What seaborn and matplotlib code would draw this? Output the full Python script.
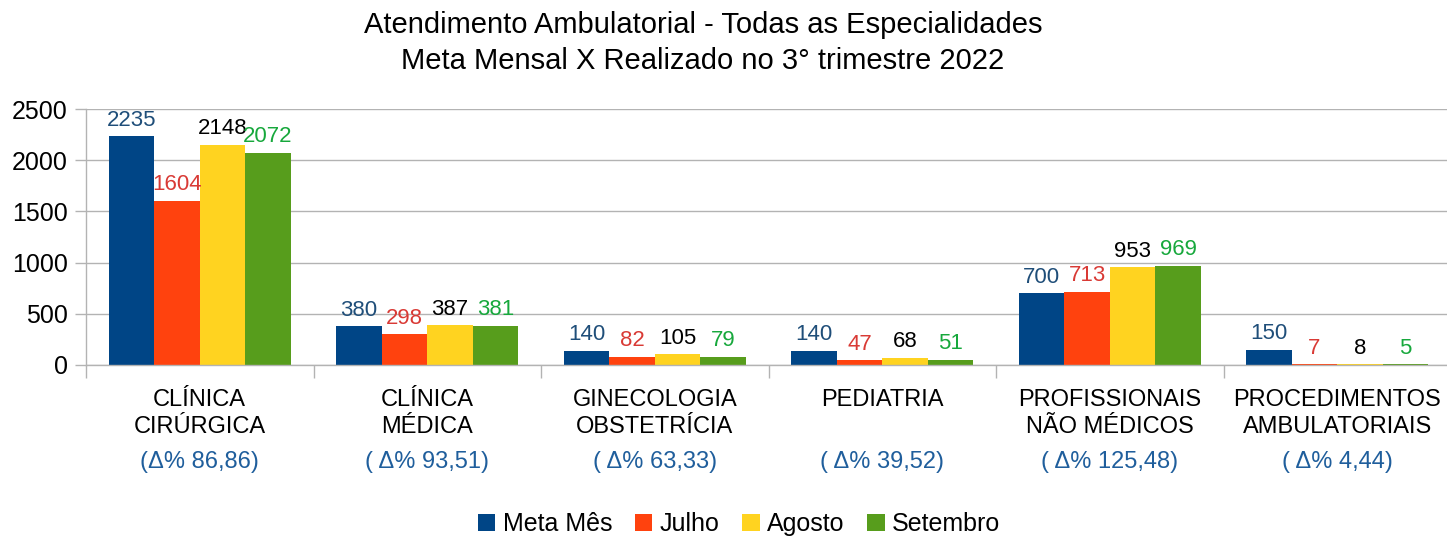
import numpy as np
import pandas as pd
import matplotlib
matplotlib.use('Agg')
import matplotlib.pyplot as plt
import seaborn as sns

categories = ['CLÍNICA\nCIRÚRGICA', 'CLÍNICA\nMÉDICA', 'GINECOLOGIA\nOBSTETRÍCIA',
              'PEDIATRIA', 'PROFISSIONAIS\nNÃO MÉDICOS', 'PROCEDIMENTOS\nAMBULATORIAIS']
deltas = ['(Δ% 86,86)', '( Δ% 93,51)', '( Δ% 63,33)', '( Δ% 39,52)', '( Δ% 125,48)', '( Δ% 4,44)']
series = ['Meta Mês', 'Julho', 'Agosto', 'Setembro']
meta = [2235, 380, 140, 140, 700, 150]
julho = [1604, 298, 82, 47, 713, 7]
agosto = [2148, 387, 105, 68, 953, 8]
setembro = [2072, 381, 79, 51, 969, 5]

bar_colors = ['#004586', '#ff420e', '#ffd320', '#579d1c']
label_colors = ['#1f4e79', '#d93a35', '#000000', '#17a83c']
delta_color = '#1f5e9c'
grid_color = '#b3b3b3'

rows = []
for s, vals in zip(series, [meta, julho, agosto, setembro]):
    for c, v in zip(categories, vals):
        rows.append({'categoria': c, 'serie': s, 'valor': v})
df = pd.DataFrame(rows)

sns.set_style('white')
plt.rcParams['font.family'] = ['Liberation Sans', 'DejaVu Sans']
plt.rcParams['text.color'] = 'black'
plt.rcParams['xtick.labelcolor'] = 'black'
plt.rcParams['ytick.labelcolor'] = 'black'

fig = plt.figure(figsize=(14.47, 5.36), dpi=100)
ax = fig.add_axes([86 / 1447, (536 - 365) / 536, (1451 - 86) / 1447, 256 / 536])

sns.barplot(data=df, x='categoria', y='valor', hue='serie', palette=bar_colors,
            saturation=1, width=0.8, gap=0, linewidth=0, ax=ax, legend=True)

for cont, col in zip(ax.containers, label_colors):
    ax.bar_label(cont, labels=[f'{int(b.get_height())}' for b in cont],
                 color=col, fontsize=16, padding=4)

ax.set_ylim(0, 2500)
ax.set_xlim(-0.5, 5.5)
ax.set_yticks(np.arange(0, 2501, 500))
ax.yaxis.grid(True, color=grid_color, linewidth=1)
ax.set_axisbelow(True)
ax.set_xlabel('')
ax.set_ylabel('')

for side in ['top', 'right']:
    ax.spines[side].set_visible(False)
for side in ['left', 'bottom']:
    ax.spines[side].set_color(grid_color)
    ax.spines[side].set_linewidth(1)

ax.tick_params(axis='y', length=8, width=1, color=grid_color, pad=5, labelsize=18, left=True)
ax.tick_params(axis='x', which='major', length=0, pad=17, labelsize=17)
ax.set_xticks(np.arange(-0.5, 6, 1), minor=True)
ax.tick_params(axis='x', which='minor', length=9, width=1, color=grid_color, bottom=True)
for lbl in ax.get_xticklabels():
    lbl.set_linespacing(1.3)

for i, d in enumerate(deltas):
    ax.annotate(d, xy=(i, 0), xycoords=('data', 'axes fraction'),
                xytext=(0, -97), textcoords='offset pixels',
                ha='center', va='center', fontsize=17, color=delta_color)

fig.text(703 / 1447, 1 - 25 / 536, 'Atendimento Ambulatorial - Todas as Especialidades',
         ha='center', va='center', fontsize=21)
fig.text(703 / 1447, 1 - 61 / 536, 'Meta Mensal X Realizado no 3° trimestre 2022',
         ha='center', va='center', fontsize=21)

handles, labels = ax.get_legend_handles_labels()
ax.get_legend().remove()
fig.legend(handles, labels, loc='center', bbox_to_anchor=(739 / 1447, 1 - 524 / 536),
           ncol=4, frameon=False, fontsize=18, handlelength=0.7, handleheight=0.7,
           handletextpad=0.3, columnspacing=0.9)

fig.savefig('out.png', dpi=100)
